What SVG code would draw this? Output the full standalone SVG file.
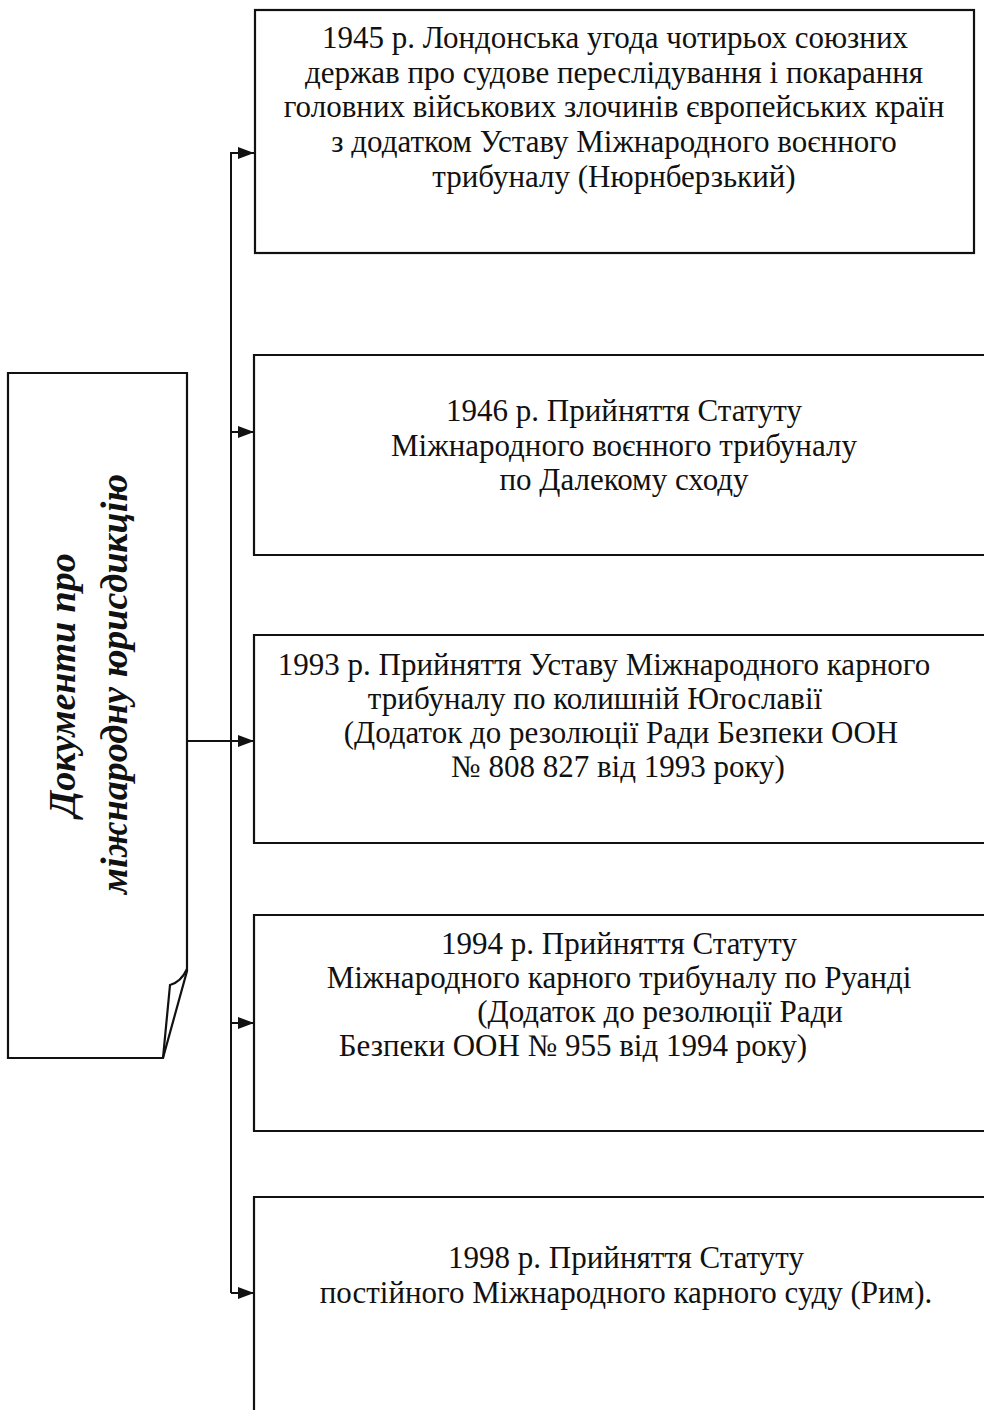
<svg xmlns="http://www.w3.org/2000/svg" width="984" height="1415" viewBox="0 0 984 1415">
<defs>
<marker id="ah" viewBox="0 0 16 12" refX="16" refY="6" markerWidth="16" markerHeight="12" markerUnits="userSpaceOnUse" orient="auto">
<path d="M0,0 L16,6 L0,12 Z" fill="#111"/>
</marker>
</defs>
<style>
.box{fill:#fff;stroke:#111;stroke-width:2.2}
.edge{fill:none;stroke:#111;stroke-width:2.2}
.conn{fill:none;stroke:#111;stroke-width:2}
.t{font-family:"Liberation Serif","Times New Roman",serif;font-size:31px;fill:#111;text-anchor:middle}
.v{font-family:"Liberation Serif","Times New Roman",serif;font-size:38px;font-weight:bold;font-style:italic;fill:#111;text-anchor:middle}
</style>
<rect width="984" height="1415" fill="#fff"/>
<g id="connectors">
<path class="conn" d="M231,1293 V153 H254" marker-end="url(#ah)"/>
<path class="conn" d="M231,432 H254" marker-end="url(#ah)"/>
<path class="conn" d="M187,741 H254" marker-end="url(#ah)"/>
<path class="conn" d="M231,1023 H254" marker-end="url(#ah)"/>
<path class="conn" d="M231,1293 H254" marker-end="url(#ah)"/>
</g>
<g id="root">
<path class="box" d="M8,373 H187 V971 L163,1058 H8 Z"/>
<path class="edge" d="M187,969 Q181,982 170,985 L163,1058"/>
<text class="v" transform="translate(75,685) rotate(-90)">Документи про</text>
<text class="v" transform="translate(127,684) rotate(-90)">міжнародну юрисдикцію</text>
</g>
<g id="n1945">
<rect class="box" x="255" y="10" width="719" height="243"/>
<text class="t" x="615" y="48">1945 р. Лондонська угода чотирьох союзних</text>
<text class="t" x="614" y="83">держав про судове переслідування і покарання</text>
<text class="t" x="614" y="117">головних військових злочинів європейських країн</text>
<text class="t" x="614" y="152">з додатком Уставу Міжнародного воєнного</text>
<text class="t" x="614" y="187">трибуналу (Нюрнберзький)</text>
</g>
<g id="n1946">
<path class="edge" d="M990,355 H254 V555 H990"/>
<text class="t" x="624" y="421">1946 р. Прийняття Статуту</text>
<text class="t" x="624" y="456">Міжнародного воєнного трибуналу</text>
<text class="t" x="624" y="490">по Далекому сходу</text>
</g>
<g id="n1993">
<path class="edge" d="M990,635 H254 V843 H990"/>
<text class="t" x="604" y="675">1993 р. Прийняття Уставу Міжнародного карного</text>
<text class="t" x="595" y="709">трибуналу по колишній Югославії</text>
<text class="t" x="621" y="743">(Додаток до резолюції Ради Безпеки ООН</text>
<text class="t" x="618" y="777">№ 808 827 від 1993 року)</text>
</g>
<g id="n1994">
<path class="edge" d="M990,915 H254 V1131 H990"/>
<text class="t" x="619" y="954">1994 р. Прийняття Статуту</text>
<text class="t" x="619" y="988">Міжнародного карного трибуналу по Руанді</text>
<text class="t" x="660" y="1022">(Додаток до резолюції Ради</text>
<text class="t" x="573" y="1056">Безпеки ООН № 955 від 1994 року)</text>
</g>
<g id="n1998">
<path class="edge" d="M990,1197 H254 V1410"/>
<text class="t" x="626" y="1268">1998 р. Прийняття Статуту</text>
<text class="t" x="626" y="1303">постійного Міжнародного карного суду (Рим).</text>
</g>
</svg>
